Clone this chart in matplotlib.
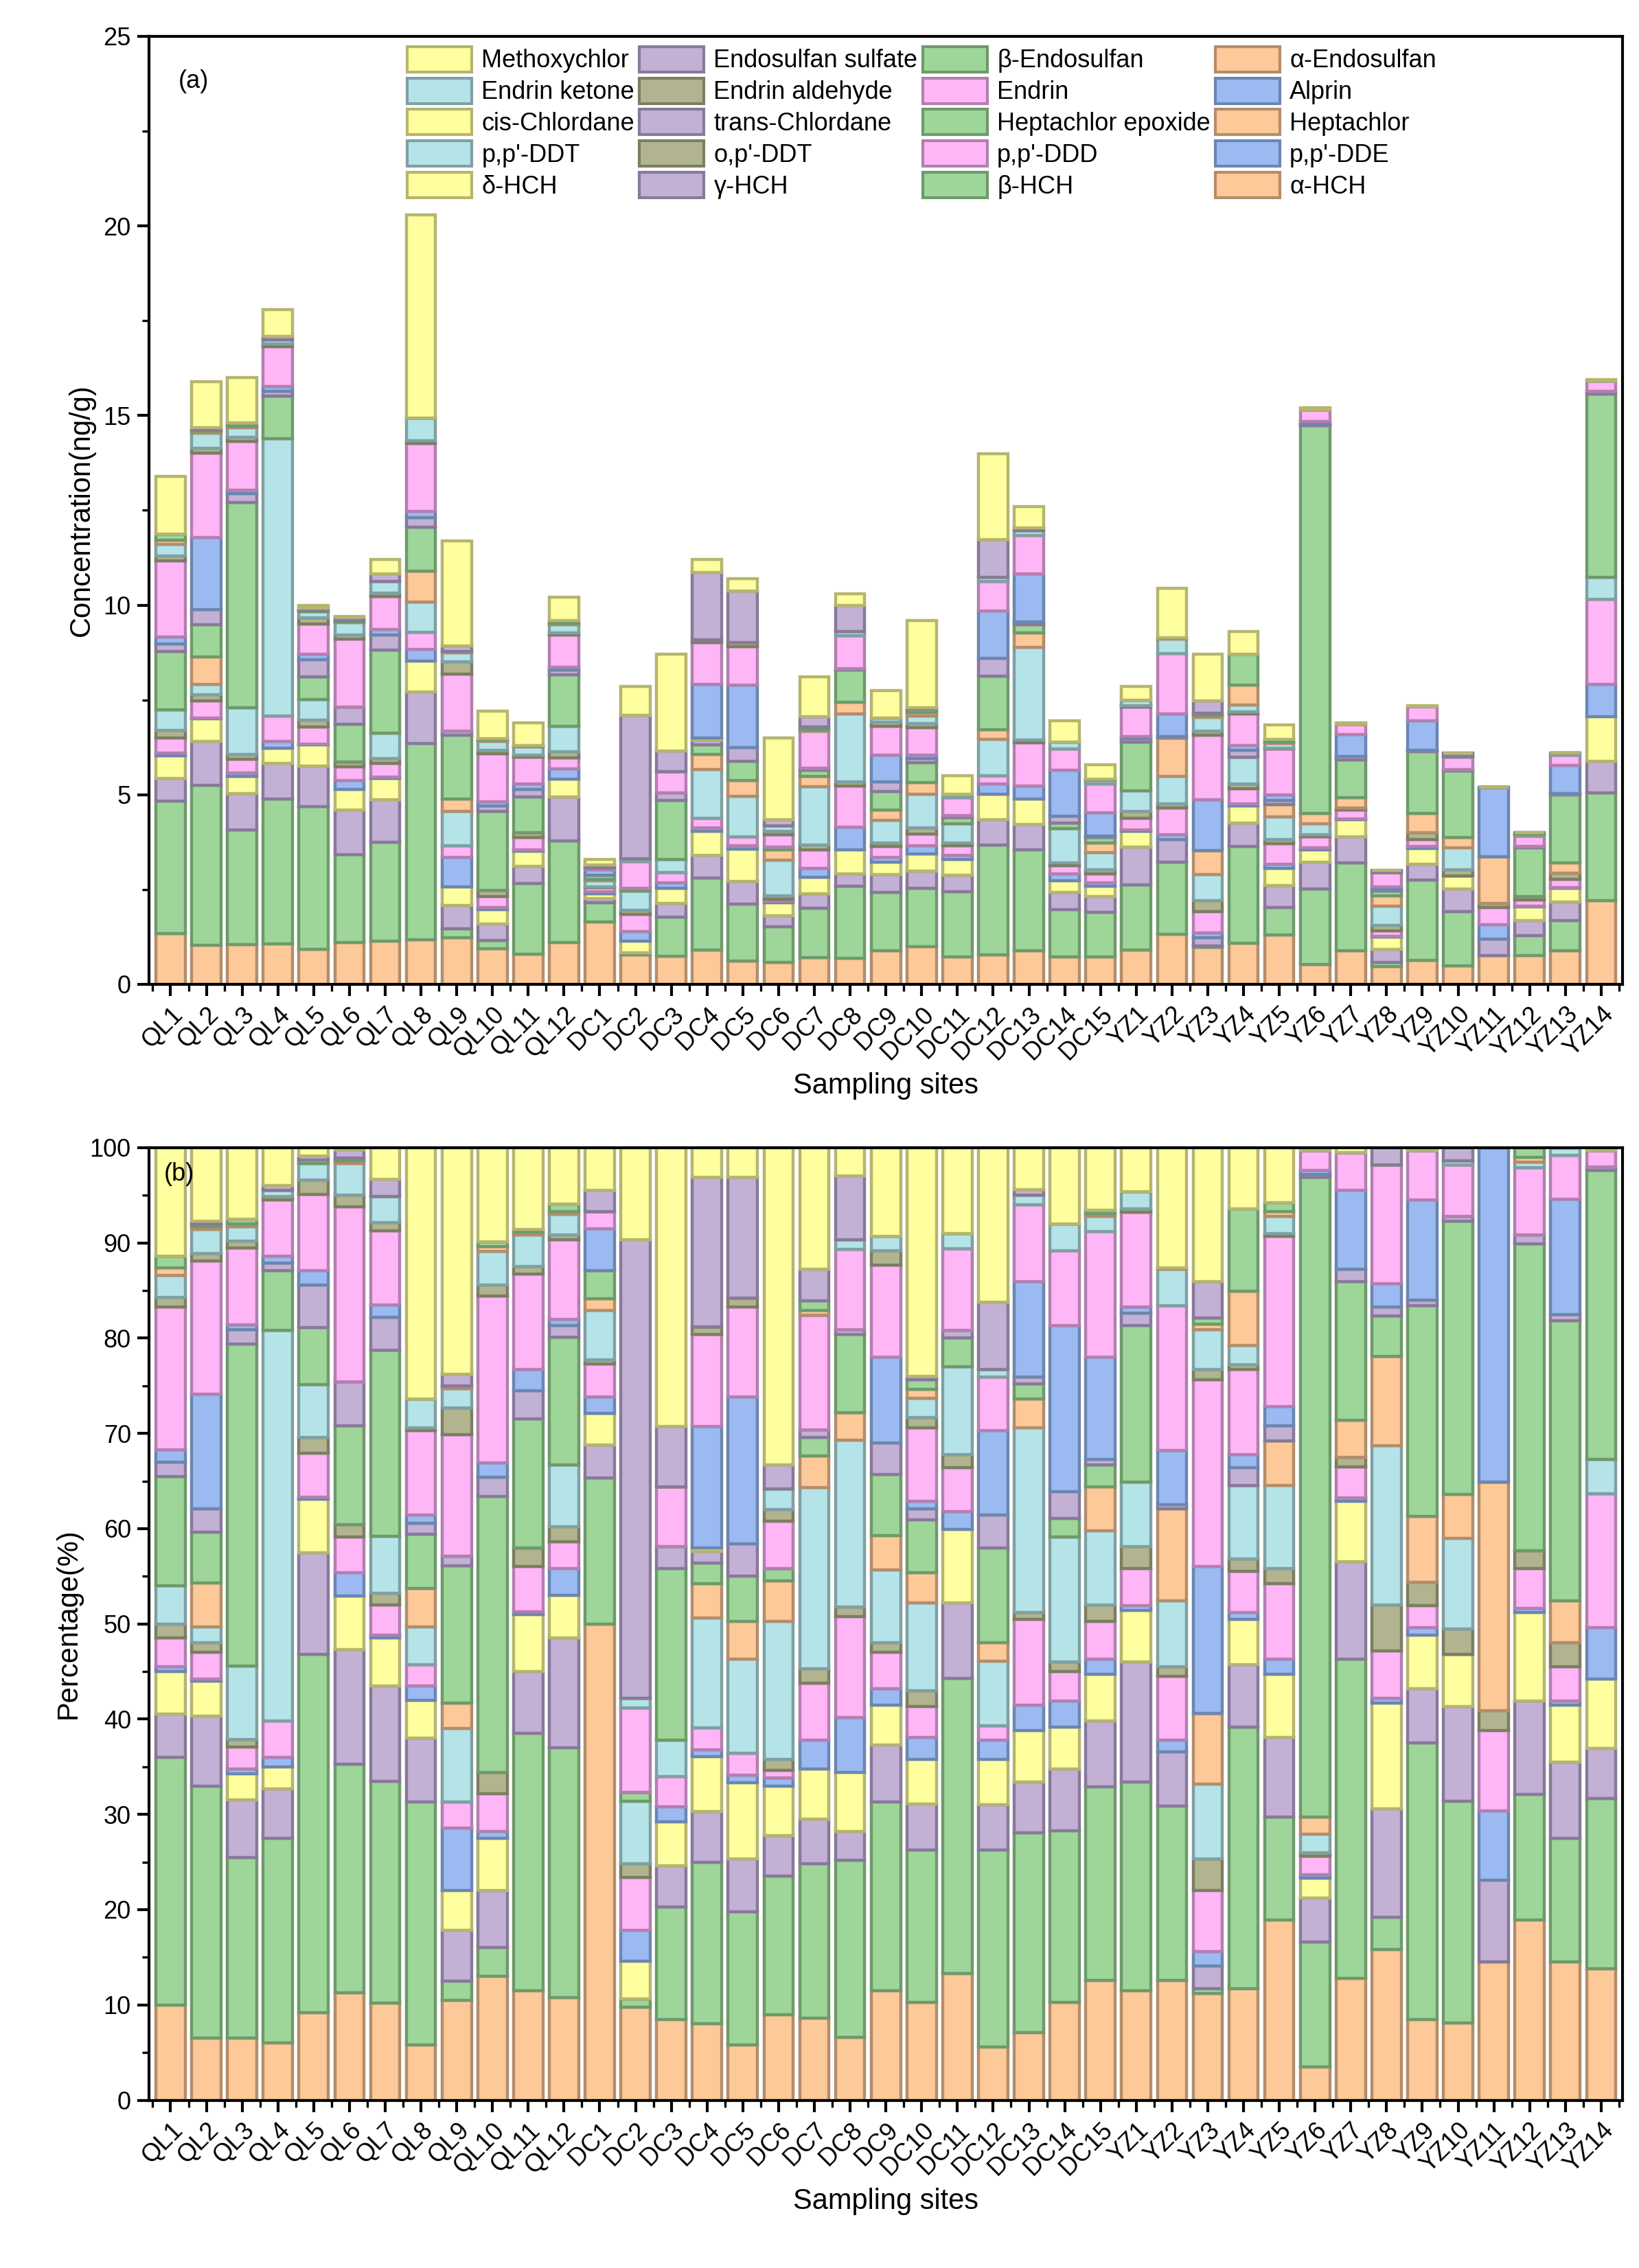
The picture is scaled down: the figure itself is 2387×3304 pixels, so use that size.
import numpy as np
import matplotlib
matplotlib.use("Agg")
import matplotlib.pyplot as plt
from matplotlib.ticker import MultipleLocator
from matplotlib.patches import Patch

plt.rcParams['font.family'] = ['Liberation Sans', 'DejaVu Sans']

sites = [f"QL{i}" for i in range(1, 13)] + [f"DC{i}" for i in range(1, 16)] + [f"YZ{i}" for i in range(1, 15)]
compounds = ["α-HCH", "β-HCH", "γ-HCH", "δ-HCH", "p,p'-DDE", "p,p'-DDD", "o,p'-DDT", "p,p'-DDT",
             "Heptachlor", "Heptachlor epoxide", "trans-Chlordane", "cis-Chlordane", "Alprin", "Endrin",
             "Endrin aldehyde", "Endrin ketone", "α-Endosulfan", "β-Endosulfan", "Endosulfan sulfate", "Methoxychlor"]

totals = [13.4, 15.9, 16.0, 17.8, 10.0, 9.7, 11.2, 20.3, 11.7, 7.2, 6.9, 10.2,
          3.3, 7.85, 8.7, 11.2, 10.7, 6.5, 8.1, 10.3, 7.75, 9.6, 5.5, 14.0, 12.6, 6.95, 5.8,
          7.85, 10.45, 8.7, 9.3, 6.85, 15.2, 6.9, 3.0, 7.35, 6.1, 5.2, 4.0, 6.1, 15.95]

# composition (%) per site, in compound order
pct = [
 [10,26,4.5,4.5,0.5,3,1.5,4,0,11.5,1.5,0,1.3,15,1,2.3,0.8,1.2,0,11.4],
 [6.5,26.5,7.3,3.7,0.2,2.8,1,1.7,4.6,5.3,2.5,0,12,14,0.8,2.5,0.3,0.3,0.3,7.7],
 [6.5,19,6,2.8,0.5,2.3,0.8,7.7,0,33.8,1.5,0,0.5,8.1,0.7,1.5,0.3,0.5,0,7.5],
 [6,21.5,5.2,2.3,1,3.8,0,41,0,6.3,0.8,0,0.7,5.9,0.4,0.6,0,0,0.5,4],
 [9.2,37.6,10.7,5.6,0.2,4.6,1.7,5.5,0,6,4.5,0,1.5,8,1.5,1.7,0,0.4,0.4,0.9],
 [11.3,24,12,5.6,2.5,3.7,1.3,0,0,10.4,4.6,0,0,18.4,1.2,3.3,0.3,0.3,0.9,0.2],
 [10.2,23.3,10,5,0.3,3.2,1.2,6,0,19.5,3.5,0,1.3,7.8,0.8,2.8,0,0,1.8,3.3],
 [5.8,25.5,6.7,4,1.5,2.2,0,4,4,5.7,1.2,0,0.8,8.9,0.3,3,0,0,0,26.4],
 [10.5,2,5.3,4.2,6.6,2.7,0,7.7,2.7,14.4,1,0,0,12.8,2.8,2,0.3,0,1.2,23.8],
 [13,3,6,5.5,0.7,4,2.2,0,0,29,2,0,1.5,17.5,1.2,3.5,0.5,0.5,0,9.9],
 [11.5,27,6.5,6,0.3,4.7,2,0,0,13.5,3,0,2.2,10,0.8,3.3,0.3,0.3,0,8.6],
 [10.8,26.2,11.5,4.5,2.8,2.8,1.6,6.5,0,13.4,1.2,0,0.7,8.3,0.5,2.2,0.3,0.8,0,5.9],
 [50,15.3,3.5,3.3,1.7,3.5,0.4,5.2,1.2,3,0,0,4.4,1.8,0,0,0,0,2.2,4.5],
 [9.8,0.8,0,4,3.2,5.6,1.4,6.6,0,0.9,0,0,0,8.9,0,1,0,0,48.1,9.7],
 [8.5,11.8,4.3,4.6,1.6,3.2,0,3.8,0,18,2.3,0,0,6.3,0,0,0,0,6.3,29.3],
 [8,17,5.3,5.8,0.7,2.3,0,11.5,3.6,2.2,1.2,0.4,12.7,9.7,0.8,0,0,0,15.7,3.1],
 [5.8,14,5.5,8,0.8,2.3,0,9.9,4,4.7,3.4,0,15.4,9.5,0.9,0,0,0,12.7,3.1],
 [9,14.5,4.3,5.2,0.8,0.8,1.2,14.5,4.2,1.3,0,0,0,5,1.2,2.2,0,0,2.5,33.3],
 [8.6,16.2,4.7,5.3,3,6,1.5,19,3.3,2,0.8,0,0,12,0,0,0.5,1,3.3,12.8],
 [6.6,18.6,3,6.2,5.8,10.6,1,17.5,2.9,8.2,0.5,0,0,8.4,0,1,0,0,6.7,3],
 [11.5,19.8,6,4.2,1.7,3.8,1,7.7,3.6,6.4,3.3,0,9,9.7,1.5,1.5,0,0,0,9.3],
 [10.3,16,4.8,4.7,2.3,3.2,1.7,9.2,3.2,5.5,1.2,0,0.8,7.7,1.1,2,0.9,1,0.4,24],
 [13.3,31,7.9,7.7,1.9,4.6,1.4,9.2,0,3,0.8,0,0,8.6,0,1.6,0,0,0,9],
 [5.6,20.7,4.7,4.8,2,1.5,0,6.8,1.9,10,3.4,0,8.9,5.6,0,0.8,0,0,7.1,16.2],
 [7.1,21,5.3,5.4,2.7,9,0.7,19.4,3,1.6,0.7,0,10,8.1,0,1,0,0,0.6,4.4],
 [10.3,18,6.5,4.4,2.7,3.1,1,13.1,0,2,2.8,0,17.4,7.9,0,2.8,0,0,0,8],
 [12.6,20.3,6.9,4.9,1.6,4,1.7,7.8,4.6,2.3,0.6,0,10.7,13.2,0,1.6,0.3,0.3,0,6.6],
 [11.5,21.9,12.6,5.4,0.5,3.9,2.3,6.8,0,16.4,1.3,0,0.7,9.9,0.4,1.8,0,0,0,4.6],
 [12.6,18.3,5.7,0,1.2,6.7,1,6.9,9.7,0,0.4,0,5.7,15.2,0,3.8,0.2,0,0,12.6],
 [11.2,0.5,2.4,0,1.5,6.4,3.3,7.9,7.4,0,0,0,15.4,19.6,1.1,4.2,0.6,0.6,3.8,14.1],
 [11.7,27.5,6.5,4.8,0.7,4.3,1.3,7.7,0,0,1.9,0,1.4,8.9,0.5,2,5.7,8.7,0,6.4],
 [18.9,10.8,8.4,6.6,1.6,7.9,1.6,8.7,4.7,0,1.6,0,2,17.9,0.3,1.8,0.5,0.9,0,5.8],
 [3.5,13.1,4.6,2.1,0.4,1.9,0.4,1.9,1.8,67.2,0.3,0,0.4,2.1,0,0,0,0,0,0.3],
 [12.8,33.5,10.2,6.4,0.3,3.3,1,0,3.9,14.5,1.3,0,8.3,4,0,0,0,0,0,0.5],
 [15.8,3.4,11.4,11.1,0.5,5,4.8,16.7,9.4,4.2,1,0,2.4,12.5,0,0,0,0,1.8,0],
 [8.5,29,5.7,5.6,0.8,2.3,2.5,0,6.9,22.1,0.6,0,10.5,5.2,0,0,0,0,0,0.3],
 [8.1,23.3,9.9,5.5,0,0,2.7,9.5,4.6,28.7,0.5,0,0,5.4,0,0.4,0,0,1.4,0],
 [14.5,0,8.6,0,7.3,8.4,2.1,0,24,0,0,0,35.1,0,0,0,0,0,0,0],
 [18.9,13.2,9.8,9.3,0.4,4.2,1.9,0,0,32.2,0.9,0,0,7.1,0,0.6,0.5,1,0,0],
 [14.5,13,8,6,0.4,3.6,2.5,0,4.4,29.4,0.7,0,12.1,4.6,0,0.8,0,0,0,0],
 [13.8,17.9,5.2,7.3,5.4,14.1,0,3.6,0,30.3,0.4,0,0,1.7,0,0,0,0,0,0.3],
]

faces = ["#FDC998", "#9ED69A", "#C3B1D5", "#FFFF9F", "#9BBAF2", "#FEB6F7", "#B1B48E", "#B5E4E8"]
edges = ["#B38D6B", "#6E9A6B", "#88799A", "#B5B56F", "#6B86B0", "#B37FAF", "#7C7E63", "#7FA0A3"]

P = np.array(pct, dtype=float)
frac = P / P.sum(axis=1, keepdims=True)
conc = frac * np.array(totals)[:, None]
perc = frac * 100

fig = plt.figure(figsize=(11.935, 16.52), dpi=200)
axa = fig.add_axes([0.091, 0.566, 0.899, 0.418])
axb = fig.add_axes([0.091, 0.074, 0.899, 0.420])
x = np.arange(len(sites))

for ax, data in ((axa, conc), (axb, perc)):
    bottom = np.zeros(len(sites))
    for j in range(len(compounds)):
        ax.bar(x, data[:, j], bottom=bottom, width=0.82, color=faces[j % 8],
               edgecolor=edges[j % 8], linewidth=1.6)
        bottom += data[:, j]
    ax.set_xlim(-0.6, len(sites) - 0.4)
    ax.set_xticks(x)
    ax.set_xticklabels(sites, rotation=45, ha='right', rotation_mode='anchor', fontsize=13)
    ax.set_xticks(np.arange(-0.5, len(sites), 1), minor=True)
    ax.tick_params(axis='both', which='major', direction='out', length=6, width=1.5, labelsize=13)
    ax.tick_params(axis='both', which='minor', direction='out', length=3.5, width=1.2)
    for s in ax.spines.values():
        s.set_linewidth(1.5)
    ax.set_xlabel("Sampling sites", fontsize=15)

axa.set_ylim(0, 25)
axa.yaxis.set_major_locator(MultipleLocator(5))
axa.yaxis.set_minor_locator(MultipleLocator(2.5))
axa.set_ylabel("Concentration(ng/g)", fontsize=15)
axa.text(0.02, 0.965, "(a)", transform=axa.transAxes, fontsize=13, va='top')

axb.set_ylim(0, 100)
axb.yaxis.set_major_locator(MultipleLocator(10))
axb.yaxis.set_minor_locator(MultipleLocator(5))
axb.set_ylabel("Percentage(%)", fontsize=15)
axb.text(0.01, 0.985, "(b)", transform=axb.transAxes, fontsize=13, va='top')

order = []
for c in range(4):
    for r in range(5):
        order.append(19 - c - 4 * r)
handles = [Patch(facecolor=faces[j % 8], edgecolor=edges[j % 8], linewidth=1.5, label=compounds[j]) for j in order]
axa.legend(handles=handles, ncol=4, loc='upper left', bbox_to_anchor=(0.165, 1.005), frameon=False,
           fontsize=13, handlelength=2.6, handleheight=1.2, columnspacing=0.2, handletextpad=0.4,
           labelspacing=0.2, borderaxespad=0.2)

fig.savefig("out.png", dpi=200)
